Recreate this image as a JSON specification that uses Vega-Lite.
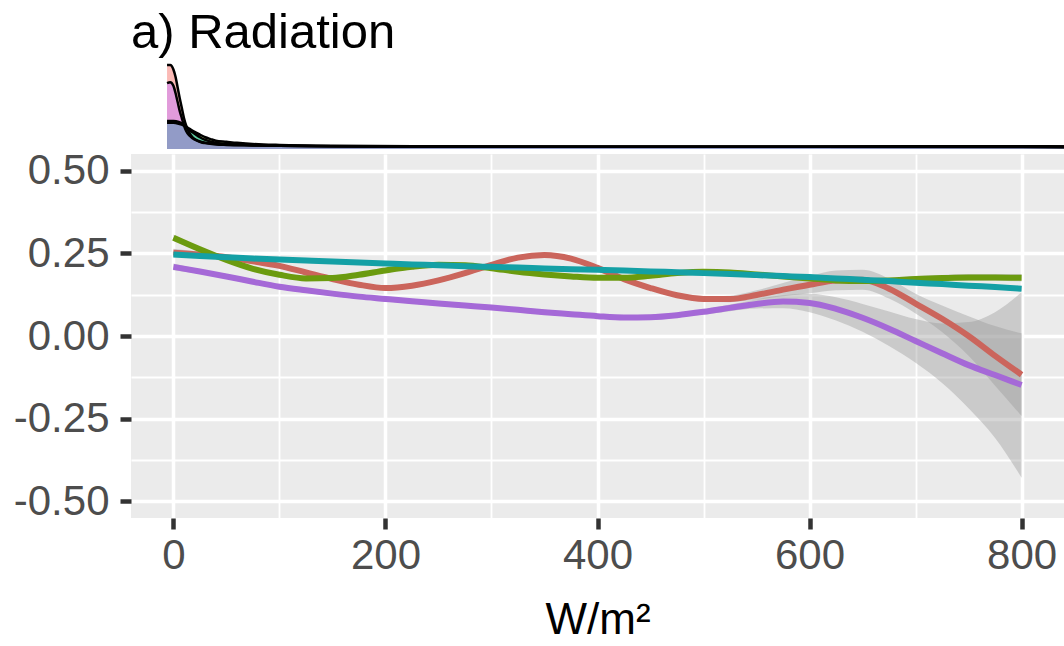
{
  "$schema": "https://vega.github.io/schema/vega-lite/v6.json",
  "background": "white",
  "padding": {"left": 13, "top": 9, "right": 0, "bottom": 0},
  "spacing": 0,
  "config": {"font": "Liberation Sans", "view": {"stroke": null}},
  "resolve": {"scale": {"color": "independent"}},
  "datasets": {
    "smooth": [
      {"g":"A","x":0,"y":0.252,"lo":0.240,"hi":0.264},
      {"g":"A","x":25,"y":0.246,"lo":0.237,"hi":0.255},
      {"g":"A","x":50,"y":0.238,"lo":0.231,"hi":0.245},
      {"g":"A","x":75,"y":0.226,"lo":0.219,"hi":0.233},
      {"g":"A","x":100,"y":0.212,"lo":0.205,"hi":0.219},
      {"g":"A","x":125,"y":0.192,"lo":0.185,"hi":0.199},
      {"g":"A","x":150,"y":0.172,"lo":0.165,"hi":0.179},
      {"g":"A","x":175,"y":0.155,"lo":0.148,"hi":0.162},
      {"g":"A","x":200,"y":0.145,"lo":0.138,"hi":0.152},
      {"g":"A","x":225,"y":0.152,"lo":0.145,"hi":0.159},
      {"g":"A","x":250,"y":0.168,"lo":0.161,"hi":0.175},
      {"g":"A","x":275,"y":0.190,"lo":0.183,"hi":0.197},
      {"g":"A","x":300,"y":0.215,"lo":0.208,"hi":0.222},
      {"g":"A","x":325,"y":0.237,"lo":0.230,"hi":0.244},
      {"g":"A","x":350,"y":0.245,"lo":0.238,"hi":0.252},
      {"g":"A","x":375,"y":0.234,"lo":0.227,"hi":0.241},
      {"g":"A","x":400,"y":0.206,"lo":0.199,"hi":0.213},
      {"g":"A","x":425,"y":0.172,"lo":0.165,"hi":0.179},
      {"g":"A","x":450,"y":0.145,"lo":0.138,"hi":0.152},
      {"g":"A","x":475,"y":0.123,"lo":0.116,"hi":0.130},
      {"g":"A","x":500,"y":0.112,"lo":0.104,"hi":0.120},
      {"g":"A","x":525,"y":0.112,"lo":0.102,"hi":0.122},
      {"g":"A","x":550,"y":0.124,"lo":0.110,"hi":0.138},
      {"g":"A","x":575,"y":0.140,"lo":0.120,"hi":0.160},
      {"g":"A","x":600,"y":0.155,"lo":0.129,"hi":0.181},
      {"g":"A","x":625,"y":0.168,"lo":0.138,"hi":0.198},
      {"g":"A","x":650,"y":0.170,"lo":0.140,"hi":0.200},
      {"g":"A","x":675,"y":0.143,"lo":0.113,"hi":0.173},
      {"g":"A","x":700,"y":0.098,"lo":0.068,"hi":0.128},
      {"g":"A","x":725,"y":0.052,"lo":0.012,"hi":0.092},
      {"g":"A","x":750,"y":0.000,"lo":-0.060,"hi":0.060},
      {"g":"A","x":775,"y":-0.060,"lo":-0.150,"hi":0.030},
      {"g":"A","x":800,"y":-0.117,"lo":-0.242,"hi":0.008},

      {"g":"B","x":0,"y":0.297,"lo":0.287,"hi":0.307},
      {"g":"B","x":25,"y":0.262,"lo":0.255,"hi":0.269},
      {"g":"B","x":50,"y":0.230,"lo":0.223,"hi":0.237},
      {"g":"B","x":75,"y":0.203,"lo":0.196,"hi":0.210},
      {"g":"B","x":100,"y":0.185,"lo":0.178,"hi":0.192},
      {"g":"B","x":125,"y":0.174,"lo":0.167,"hi":0.181},
      {"g":"B","x":150,"y":0.175,"lo":0.168,"hi":0.182},
      {"g":"B","x":175,"y":0.185,"lo":0.178,"hi":0.192},
      {"g":"B","x":200,"y":0.198,"lo":0.191,"hi":0.205},
      {"g":"B","x":225,"y":0.209,"lo":0.202,"hi":0.216},
      {"g":"B","x":250,"y":0.215,"lo":0.208,"hi":0.222},
      {"g":"B","x":275,"y":0.214,"lo":0.207,"hi":0.221},
      {"g":"B","x":300,"y":0.205,"lo":0.198,"hi":0.212},
      {"g":"B","x":325,"y":0.194,"lo":0.187,"hi":0.201},
      {"g":"B","x":350,"y":0.186,"lo":0.179,"hi":0.193},
      {"g":"B","x":375,"y":0.180,"lo":0.173,"hi":0.187},
      {"g":"B","x":400,"y":0.176,"lo":0.169,"hi":0.183},
      {"g":"B","x":425,"y":0.176,"lo":0.169,"hi":0.183},
      {"g":"B","x":450,"y":0.182,"lo":0.175,"hi":0.189},
      {"g":"B","x":475,"y":0.190,"lo":0.183,"hi":0.197},
      {"g":"B","x":500,"y":0.194,"lo":0.187,"hi":0.201},
      {"g":"B","x":525,"y":0.192,"lo":0.185,"hi":0.199},
      {"g":"B","x":550,"y":0.186,"lo":0.179,"hi":0.193},
      {"g":"B","x":575,"y":0.180,"lo":0.173,"hi":0.187},
      {"g":"B","x":600,"y":0.174,"lo":0.167,"hi":0.181},
      {"g":"B","x":625,"y":0.168,"lo":0.161,"hi":0.175},
      {"g":"B","x":650,"y":0.166,"lo":0.158,"hi":0.174},
      {"g":"B","x":675,"y":0.168,"lo":0.160,"hi":0.176},
      {"g":"B","x":700,"y":0.172,"lo":0.163,"hi":0.181},
      {"g":"B","x":725,"y":0.175,"lo":0.166,"hi":0.184},
      {"g":"B","x":750,"y":0.177,"lo":0.167,"hi":0.187},
      {"g":"B","x":775,"y":0.177,"lo":0.167,"hi":0.187},
      {"g":"B","x":800,"y":0.176,"lo":0.165,"hi":0.187},

      {"g":"C","x":0,"y":0.246,"lo":0.238,"hi":0.254},
      {"g":"C","x":25,"y":0.242,"lo":0.236,"hi":0.248},
      {"g":"C","x":50,"y":0.238,"lo":0.232,"hi":0.244},
      {"g":"C","x":75,"y":0.234,"lo":0.228,"hi":0.240},
      {"g":"C","x":100,"y":0.231,"lo":0.225,"hi":0.237},
      {"g":"C","x":125,"y":0.228,"lo":0.222,"hi":0.234},
      {"g":"C","x":150,"y":0.225,"lo":0.219,"hi":0.231},
      {"g":"C","x":175,"y":0.222,"lo":0.216,"hi":0.228},
      {"g":"C","x":200,"y":0.219,"lo":0.213,"hi":0.225},
      {"g":"C","x":225,"y":0.216,"lo":0.210,"hi":0.222},
      {"g":"C","x":250,"y":0.214,"lo":0.208,"hi":0.220},
      {"g":"C","x":275,"y":0.211,"lo":0.205,"hi":0.217},
      {"g":"C","x":300,"y":0.209,"lo":0.203,"hi":0.215},
      {"g":"C","x":325,"y":0.207,"lo":0.201,"hi":0.213},
      {"g":"C","x":350,"y":0.204,"lo":0.198,"hi":0.210},
      {"g":"C","x":375,"y":0.202,"lo":0.196,"hi":0.208},
      {"g":"C","x":400,"y":0.200,"lo":0.194,"hi":0.206},
      {"g":"C","x":425,"y":0.198,"lo":0.192,"hi":0.204},
      {"g":"C","x":450,"y":0.195,"lo":0.189,"hi":0.201},
      {"g":"C","x":475,"y":0.193,"lo":0.187,"hi":0.199},
      {"g":"C","x":500,"y":0.190,"lo":0.184,"hi":0.196},
      {"g":"C","x":525,"y":0.187,"lo":0.181,"hi":0.193},
      {"g":"C","x":550,"y":0.184,"lo":0.178,"hi":0.190},
      {"g":"C","x":575,"y":0.181,"lo":0.175,"hi":0.187},
      {"g":"C","x":600,"y":0.178,"lo":0.172,"hi":0.184},
      {"g":"C","x":625,"y":0.174,"lo":0.168,"hi":0.180},
      {"g":"C","x":650,"y":0.170,"lo":0.164,"hi":0.176},
      {"g":"C","x":675,"y":0.166,"lo":0.160,"hi":0.172},
      {"g":"C","x":700,"y":0.161,"lo":0.155,"hi":0.167},
      {"g":"C","x":725,"y":0.157,"lo":0.151,"hi":0.163},
      {"g":"C","x":750,"y":0.152,"lo":0.146,"hi":0.158},
      {"g":"C","x":775,"y":0.148,"lo":0.141,"hi":0.155},
      {"g":"C","x":800,"y":0.143,"lo":0.135,"hi":0.151},

      {"g":"D","x":0,"y":0.209,"lo":0.199,"hi":0.219},
      {"g":"D","x":25,"y":0.195,"lo":0.188,"hi":0.202},
      {"g":"D","x":50,"y":0.180,"lo":0.173,"hi":0.187},
      {"g":"D","x":75,"y":0.164,"lo":0.157,"hi":0.171},
      {"g":"D","x":100,"y":0.149,"lo":0.142,"hi":0.156},
      {"g":"D","x":125,"y":0.138,"lo":0.131,"hi":0.145},
      {"g":"D","x":150,"y":0.128,"lo":0.121,"hi":0.135},
      {"g":"D","x":175,"y":0.119,"lo":0.112,"hi":0.126},
      {"g":"D","x":200,"y":0.112,"lo":0.105,"hi":0.119},
      {"g":"D","x":225,"y":0.105,"lo":0.098,"hi":0.112},
      {"g":"D","x":250,"y":0.098,"lo":0.091,"hi":0.105},
      {"g":"D","x":275,"y":0.092,"lo":0.085,"hi":0.099},
      {"g":"D","x":300,"y":0.086,"lo":0.079,"hi":0.093},
      {"g":"D","x":325,"y":0.079,"lo":0.072,"hi":0.086},
      {"g":"D","x":350,"y":0.072,"lo":0.065,"hi":0.079},
      {"g":"D","x":375,"y":0.066,"lo":0.059,"hi":0.073},
      {"g":"D","x":400,"y":0.060,"lo":0.053,"hi":0.067},
      {"g":"D","x":425,"y":0.056,"lo":0.049,"hi":0.063},
      {"g":"D","x":450,"y":0.057,"lo":0.050,"hi":0.064},
      {"g":"D","x":475,"y":0.063,"lo":0.056,"hi":0.070},
      {"g":"D","x":500,"y":0.073,"lo":0.065,"hi":0.081},
      {"g":"D","x":525,"y":0.085,"lo":0.075,"hi":0.095},
      {"g":"D","x":550,"y":0.097,"lo":0.083,"hi":0.111},
      {"g":"D","x":575,"y":0.104,"lo":0.084,"hi":0.124},
      {"g":"D","x":600,"y":0.100,"lo":0.072,"hi":0.128},
      {"g":"D","x":625,"y":0.082,"lo":0.047,"hi":0.117},
      {"g":"D","x":650,"y":0.055,"lo":0.013,"hi":0.097},
      {"g":"D","x":675,"y":0.022,"lo":-0.030,"hi":0.074},
      {"g":"D","x":700,"y":-0.015,"lo":-0.081,"hi":0.051},
      {"g":"D","x":725,"y":-0.052,"lo":-0.142,"hi":0.038},
      {"g":"D","x":750,"y":-0.088,"lo":-0.218,"hi":0.042},
      {"g":"D","x":775,"y":-0.118,"lo":-0.308,"hi":0.072},
      {"g":"D","x":800,"y":-0.148,"lo":-0.428,"hi":0.132}
    ],
    "dens": [
      {"g":"A","x":-6,"d":0.93},{"g":"A","x":-3,"d":0.93},{"g":"A","x":0,"d":0.88},{"g":"A","x":2,"d":0.80},
      {"g":"A","x":4,"d":0.68},{"g":"A","x":6,"d":0.56},{"g":"A","x":8,"d":0.45},{"g":"A","x":10,"d":0.34},
      {"g":"A","x":12,"d":0.26},{"g":"A","x":15,"d":0.18},{"g":"A","x":18,"d":0.13},{"g":"A","x":22,"d":0.095},
      {"g":"A","x":26,"d":0.075},{"g":"A","x":30,"d":0.065},{"g":"A","x":40,"d":0.05},{"g":"A","x":50,"d":0.045},
      {"g":"A","x":75,"d":0.04},{"g":"A","x":100,"d":0.035},{"g":"A","x":150,"d":0.03},{"g":"A","x":200,"d":0.027},
      {"g":"A","x":300,"d":0.025},{"g":"A","x":400,"d":0.024},{"g":"A","x":500,"d":0.024},{"g":"A","x":600,"d":0.026},
      {"g":"A","x":700,"d":0.03},{"g":"A","x":800,"d":0.03},{"g":"A","x":840,"d":0.028},

      {"g":"B","x":-6,"d":0.29},{"g":"B","x":0,"d":0.29},{"g":"B","x":5,"d":0.28},{"g":"B","x":10,"d":0.26},
      {"g":"B","x":15,"d":0.225},{"g":"B","x":20,"d":0.19},{"g":"B","x":25,"d":0.16},{"g":"B","x":30,"d":0.13},
      {"g":"B","x":35,"d":0.11},{"g":"B","x":40,"d":0.092},{"g":"B","x":50,"d":0.08},{"g":"B","x":60,"d":0.068},
      {"g":"B","x":85,"d":0.05},{"g":"B","x":100,"d":0.045},{"g":"B","x":150,"d":0.036},{"g":"B","x":250,"d":0.03},
      {"g":"B","x":400,"d":0.026},{"g":"B","x":600,"d":0.025},{"g":"B","x":800,"d":0.024},{"g":"B","x":840,"d":0.022},

      {"g":"C","x":-6,"d":0.31},{"g":"C","x":0,"d":0.31},{"g":"C","x":5,"d":0.30},{"g":"C","x":10,"d":0.27},
      {"g":"C","x":15,"d":0.21},{"g":"C","x":20,"d":0.17},{"g":"C","x":25,"d":0.13},{"g":"C","x":30,"d":0.10},
      {"g":"C","x":40,"d":0.07},{"g":"C","x":50,"d":0.055},{"g":"C","x":75,"d":0.042},{"g":"C","x":100,"d":0.036},
      {"g":"C","x":150,"d":0.03},{"g":"C","x":250,"d":0.026},{"g":"C","x":400,"d":0.024},{"g":"C","x":600,"d":0.024},
      {"g":"C","x":800,"d":0.022},{"g":"C","x":840,"d":0.02},

      {"g":"D","x":-6,"d":0.73},{"g":"D","x":-3,"d":0.74},{"g":"D","x":0,"d":0.70},{"g":"D","x":2,"d":0.62},
      {"g":"D","x":4,"d":0.52},{"g":"D","x":6,"d":0.42},{"g":"D","x":8,"d":0.34},{"g":"D","x":10,"d":0.26},
      {"g":"D","x":12,"d":0.20},{"g":"D","x":15,"d":0.15},{"g":"D","x":18,"d":0.12},{"g":"D","x":22,"d":0.095},
      {"g":"D","x":26,"d":0.08},{"g":"D","x":30,"d":0.07},{"g":"D","x":40,"d":0.058},{"g":"D","x":50,"d":0.05},
      {"g":"D","x":75,"d":0.042},{"g":"D","x":100,"d":0.036},{"g":"D","x":150,"d":0.03},{"g":"D","x":250,"d":0.026},
      {"g":"D","x":400,"d":0.025},{"g":"D","x":600,"d":0.026},{"g":"D","x":750,"d":0.03},{"g":"D","x":840,"d":0.028}
    ]
  },
  "vconcat": [
    {
      "width": 933,
      "height": 93,
      "title": {"text": "a) Radiation", "anchor": "start", "fontSize": 49, "fontWeight": "normal", "color": "black", "offset": -2, "frame": "group"},
      "data": {"name": "dens"},
      "encoding": {
        "x": {"field": "x", "type": "quantitative", "scale": {"domain": [-40, 840], "nice": false, "zero": false}, "axis": null},
        "y": {"field": "d", "type": "quantitative", "stack": null, "scale": {"domain": [0, 1.03], "nice": false}, "axis": null}
      },
      "layer": [
        {
          "mark": {"type": "area", "opacity": 0.5, "interpolate": "monotone", "clip": true},
          "encoding": {
            "color": {"field": "g", "type": "nominal", "scale": {"domain": ["A", "B", "C", "D"], "range": ["#F8766D", "#7CAE00", "#00BFC4", "#C77CFF"]}, "legend": null}
          }
        },
        {
          "mark": {"type": "line", "color": "black", "strokeWidth": 2.5, "interpolate": "monotone", "clip": true},
          "encoding": {"detail": {"field": "g", "type": "nominal"}}
        }
      ]
    },
    {
      "width": 933,
      "height": 364,
      "view": {"fill": "#EBEBEB", "stroke": null},
      "data": {"name": "smooth"},
      "encoding": {
        "x": {
          "field": "x", "type": "quantitative",
          "scale": {"domain": [-40, 840], "nice": false, "zero": false},
          "axis": {
            "values": [0, 100, 200, 300, 400, 500, 600, 700, 800],
            "title": "W/m²", "titleFontSize": 44, "titleFontWeight": "normal", "titleColor": "black", "titlePadding": 22,
            "labelFontSize": 42, "labelColor": "#4D4D4D", "labelPadding": 6, "labelOverlap": false, "labelFlush": false,
            "labelExpr": "datum.value % 200 === 0 ? datum.label : ''",
            "format": "d",
            "domain": false,
            "tickSize": 11, "tickWidth": 4.5, "tickColor": "#333333",
            "tickOpacity": {"condition": {"test": "datum.value % 200 === 0", "value": 1}, "value": 0},
            "gridColor": "white",
            "gridWidth": {"condition": {"test": "datum.value % 200 === 0", "value": 3.5}, "value": 1.8}
          }
        }
      },
      "layer": [
        {
          "mark": {"type": "area", "color": "#999999", "opacity": 0.4, "interpolate": "monotone"},
          "encoding": {
            "y": {
              "field": "lo", "type": "quantitative",
              "scale": {"domain": [-0.55, 0.55], "nice": false, "zero": false},
              "axis": {
                "values": [-0.5, -0.375, -0.25, -0.125, 0, 0.125, 0.25, 0.375, 0.5],
                "title": null,
                "labelFontSize": 42, "labelColor": "#4D4D4D", "labelPadding": 11, "labelOverlap": false,
                "labelExpr": "abs(datum.value*4 - round(datum.value*4)) < 0.001 ? (datum.value < 0 ? '-' : '') + format(abs(datum.value), '.2f') : ''",
                "domain": false,
                "tickSize": 11, "tickWidth": 4.5, "tickColor": "#333333",
                "tickOpacity": {"condition": {"test": "abs(datum.value*4 - round(datum.value*4)) < 0.001", "value": 1}, "value": 0},
                "gridColor": "white",
                "gridWidth": {"condition": {"test": "abs(datum.value*4 - round(datum.value*4)) < 0.001", "value": 3.5}, "value": 1.8}
              }
            },
            "y2": {"field": "hi"},
            "detail": {"field": "g", "type": "nominal"}
          }
        },
        {
          "mark": {"type": "line", "strokeWidth": 6, "interpolate": "monotone"},
          "encoding": {
            "y": {"field": "y", "type": "quantitative", "axis": {"title": null}},
            "color": {"field": "g", "type": "nominal", "scale": {"domain": ["A", "B", "C", "D"], "range": ["#CB655C", "#6B9B0F", "#14A0A5", "#A569D7"]}, "legend": null}
          }
        }
      ]
    }
  ]
}
